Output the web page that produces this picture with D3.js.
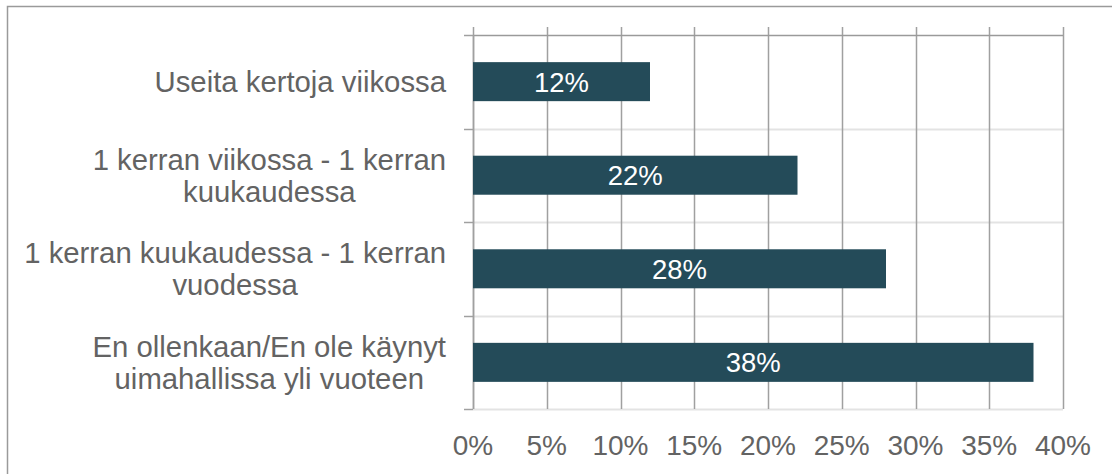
<!DOCTYPE html>
<html>
<head>
<meta charset="utf-8">
<script src="https://cdn.jsdelivr.net/npm/d3@7"></script>
<style>
  body { margin: 0; background: #fff; }
  text { font-family: "Liberation Sans", Arial, sans-serif; }
</style>
</head>
<body>
<script>
// data
var categories = [
    ["Useita kertoja viikossa"],
    ["1 kerran viikossa - 1 kerran", "kuukaudessa"],
    ["1 kerran kuukaudessa - 1 kerran", "vuodessa"],
    ["En ollenkaan/En ole käynyt", "uimahallissa yli vuoteen"]
]
var values = [12, 22, 28, 38]
var ticks = [0, 5, 10, 15, 20, 25, 30, 35, 40]

var W = 1112, H = 474
var margin = { left: 473, top: 35, right: 49, bottom: 65 }
var width = W - margin.left - margin.right,
    height = H - margin.top - margin.bottom

var svg = d3.select("body").append("svg")
    .attr("width", W).attr("height", H)

// outer chart border (runs off the right / bottom edge)
svg.append("rect")
    .attr("x", 7.5).attr("y", 6.5)
    .attr("width", W + 20).attr("height", H + 20)
    .attr("fill", "none").attr("stroke", "#9a9a9a").attr("stroke-width", 1.5)

var g = svg.append("g")
    .attr("transform", "translate(" + margin.left + "," + margin.top + ")")

var x = d3.scaleLinear().domain([0, 40]).range([0, width])
var y = d3.scaleBand().domain(d3.range(categories.length)).range([0, height]).paddingInner(0.583).paddingOuter(0.29)
var band = d3.scaleBand().domain(d3.range(categories.length)).range([0, height])

// horizontal category gridlines
g.selectAll(".hgrid").data(d3.range(1, categories.length + 1)).enter().append("line")
    .attr("x1", 0).attr("x2", width)
    .attr("y1", function (d) { return Math.round(d * band.step()) + 0.5 })
    .attr("y2", function (d) { return Math.round(d * band.step()) + 0.5 })
    .attr("stroke", "#e3e3e3").attr("stroke-width", 2)

// vertical value gridlines
g.selectAll(".vgrid").data(ticks).enter().append("line")
    .attr("x1", function (d) { return Math.round(x(d)) + 0.5 })
    .attr("x2", function (d) { return Math.round(x(d)) + 0.5 })
    .attr("y1", -8).attr("y2", height)
    .attr("stroke", "#a0a0a0").attr("stroke-width", 1.5)

// value axis line on top
g.append("line").attr("x1", 0).attr("x2", width).attr("y1", 0.5).attr("y2", 0.5)
    .attr("stroke", "#9a9a9a").attr("stroke-width", 1.5)

// category axis with ticks at boundaries
g.append("line").attr("x1", 0.5).attr("x2", 0.5).attr("y1", 0).attr("y2", height)
    .attr("stroke", "#a0a0a0").attr("stroke-width", 1.5)
g.selectAll(".ctick").data(d3.range(0, categories.length + 1)).enter().append("line")
    .attr("x1", -9).attr("x2", 0)
    .attr("y1", function (d) { return Math.round(d * band.step()) + 0.5 })
    .attr("y2", function (d) { return Math.round(d * band.step()) + 0.5 })
    .attr("stroke", "#a0a0a0").attr("stroke-width", 1.5)

// bars
g.selectAll(".bar").data(values).enter().append("rect")
    .attr("x", x(0))
    .attr("y", function (d, i) { return y(i) })
    .attr("width", function (d) { return x(d) - x(0) })
    .attr("height", y.bandwidth())
    .attr("fill", "#244b59")

// bar labels
g.selectAll(".blab").data(values).enter().append("text")
    .attr("x", function (d) { return x(d) / 2 })
    .attr("y", function (d, i) { return y(i) + y.bandwidth() / 2 })
    .attr("dy", "0.36em")
    .attr("text-anchor", "middle")
    .attr("fill", "#fff").attr("font-size", 27.5)
    .text(function (d) { return d + "%" })

// category labels (multi-line, centred block, right aligned to axis)
var lineH = 32
categories.forEach(function (lines, i) {
    var cy = band(i) + band.step() / 2
    var lg = g.append("g")
    var ts = lines.map(function (t, k) {
        return lg.append("text")
            .attr("y", cy + (k - (lines.length - 1) / 2) * lineH)
            .attr("dy", "0.36em")
            .attr("text-anchor", "middle")
            .attr("fill", "#636363").attr("font-size", 29.3)
            .text(t)
    })
    var maxW = d3.max(ts, function (t) { return t.node().getComputedTextLength() })
    ts.forEach(function (t) { t.attr("x", -27 - maxW / 2) })
})

// value tick labels
g.selectAll(".xlab").data(ticks).enter().append("text")
    .attr("x", function (d) { return x(d) })
    .attr("y", height + 46)
    .attr("text-anchor", "middle")
    .attr("fill", "#636363").attr("font-size", 28)
    .text(function (d) { return d + "%" })
</script>
</body>
</html>
